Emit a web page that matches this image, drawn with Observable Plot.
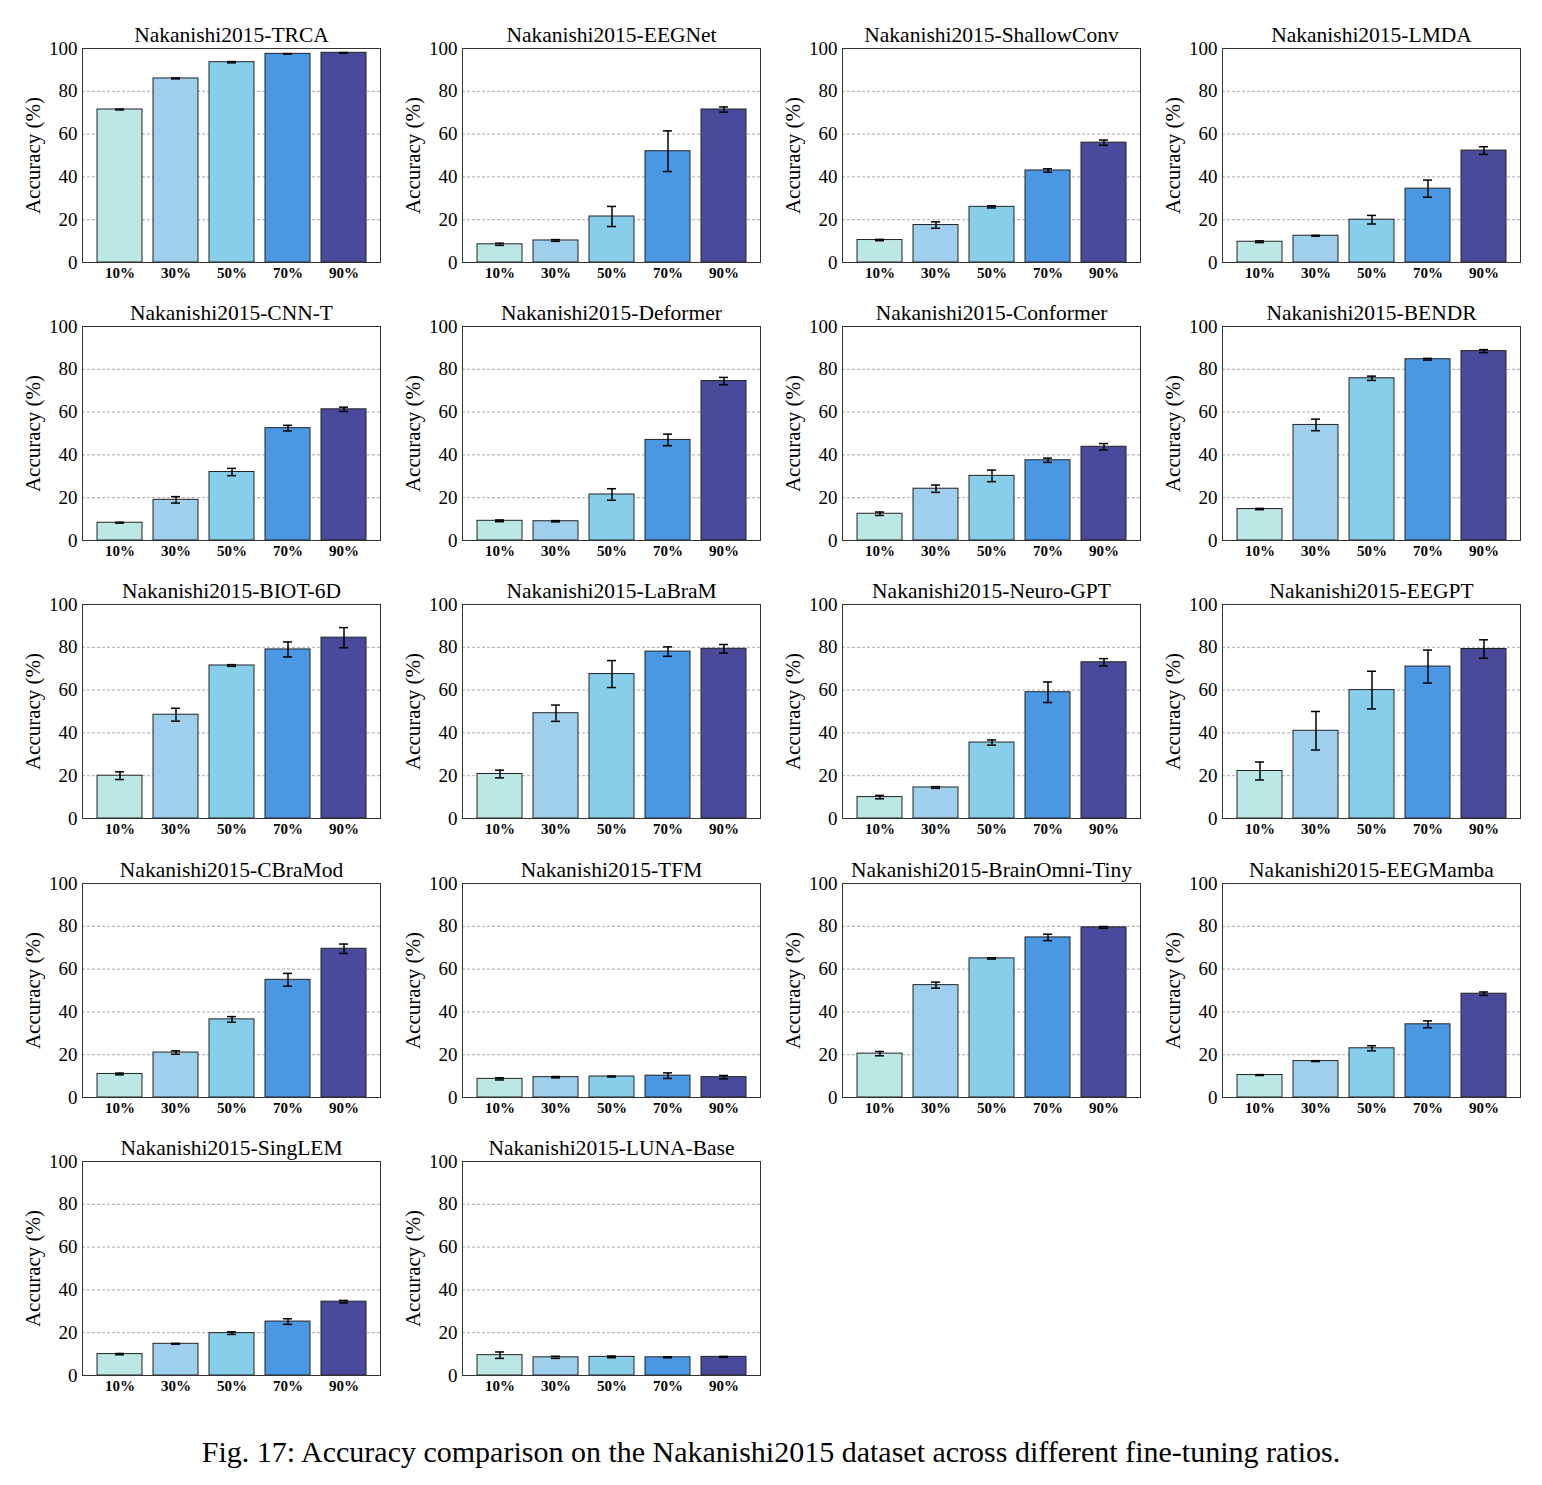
<!DOCTYPE html>
<html>
<head>
<meta charset="utf-8">
<script src="https://cdn.jsdelivr.net/npm/d3@7"></script>
<script src="https://cdn.jsdelivr.net/npm/@observablehq/plot@0.6"></script>
<style>
  html, body { margin: 0; padding: 0; background: #fff; }
  #grid { position: relative; width: 1542px; height: 1485px; font-family: "Liberation Serif", "Times New Roman", serif; }
  .panel { position: absolute; }
  .panel svg { overflow: visible; }
  #caption { position: absolute; left: 0; width: 1542px; top: 1434px; text-align: center;
             font-family: "Liberation Serif", "Times New Roman", serif; font-size: 30px; line-height: 36px; color: #000; }
</style>
</head>
<body>
<div id="grid"></div>

<script>
// Fine-tuning ratios (x categories)
const ratios = ["10%", "30%", "50%", "70%", "90%"];

// Models, one panel each (row-major, 4 per row)
const models = [
  "TRCA", "EEGNet", "ShallowConv", "LMDA",
  "CNN-T", "Deformer", "Conformer", "BENDR",
  "BIOT-6D", "LaBraM", "Neuro-GPT", "EEGPT",
  "CBraMod", "TFM", "BrainOmni-Tiny", "EEGMamba",
  "SingLEM", "LUNA-Base"
];

// Mean accuracy (%) per model, in ratio order
const meanAcc = [
  [71.5, 86.0, 93.6, 97.5, 98.0],
  [8.5, 10.3, 21.5, 52.0, 71.5],
  [10.5, 17.5, 26.0, 43.0, 56.0],
  [9.7, 12.5, 20.0, 34.5, 52.3],
  [8.3, 19.0, 32.0, 52.5, 61.3],
  [9.2, 9.0, 21.5, 47.0, 74.5],
  [12.5, 24.2, 30.2, 37.5, 43.8],
  [14.7, 54.0, 75.8, 84.7, 88.5],
  [20.0, 48.5, 71.5, 79.0, 84.5],
  [20.8, 49.2, 67.5, 78.0, 79.3],
  [10.0, 14.5, 35.5, 59.0, 73.0],
  [22.2, 41.0, 60.0, 71.0, 79.2],
  [11.0, 21.0, 36.5, 55.0, 69.5],
  [8.7, 9.5, 9.8, 10.2, 9.5],
  [20.5, 52.5, 65.0, 74.8, 79.5],
  [10.5, 17.0, 23.0, 34.2, 48.5],
  [10.0, 14.8, 19.8, 25.2, 34.5],
  [9.5, 8.5, 8.7, 8.5, 8.7]
];

// Standard deviation (%) per model, in ratio order
const stdAcc = [
  [0.2, 0.2, 0.3, 0.1, 0.1],
  [0.5, 0.4, 4.7, 9.5, 1.2],
  [0.3, 1.5, 0.5, 0.8, 1.2],
  [0.4, 0.2, 2.0, 4.0, 1.8],
  [0.2, 1.5, 1.7, 1.3, 1.0],
  [0.4, 0.3, 2.7, 2.7, 1.7],
  [0.8, 1.7, 2.7, 1.0, 1.5],
  [0.3, 2.7, 1.0, 0.4, 0.7],
  [1.8, 3.0, 0.4, 3.5, 4.7],
  [1.8, 3.8, 6.3, 2.2, 2.0],
  [0.8, 0.4, 1.2, 4.8, 1.7],
  [4.2, 9.0, 8.8, 7.7, 4.3],
  [0.4, 0.8, 1.3, 3.0, 2.2],
  [0.5, 0.3, 0.2, 1.3, 0.8],
  [1.0, 1.4, 0.3, 1.5, 0.4],
  [0.2, 0.2, 1.2, 1.6, 0.8],
  [0.3, 0.2, 0.6, 1.3, 0.6],
  [1.5, 0.5, 0.4, 0.2, 0.2]
];

const barColors = ["#bbe7e4", "#9ed0ee", "#87ceeb", "#4a98e3", "#4a4a9c"];
const datasetName = "Nakanishi2015";

const grid = document.getElementById("grid");
const colPitch = 380, rowPitch = 278.2;

models.forEach((model, i) => {
  const col = i % 4, row = Math.floor(i / 4);
  const rows = ratios.map((r, j) => ({
    ratio: r,
    mean: meanAcc[i][j],
    lo: meanAcc[i][j] - stdAcc[i][j],
    hi: meanAcc[i][j] + stdAcc[i][j]
  }));

  const chart = Plot.plot({
    width: 380,
    height: 48 + 214 + 30,
    marginLeft: 82,
    marginRight: 0,
    marginTop: 48,
    marginBottom: 30,
    style: { fontFamily: "'Liberation Serif', 'Times New Roman', serif", background: "transparent", color: "#000" },
    x: { domain: ratios, paddingInner: 0.2, paddingOuter: 0.24 },
    y: { domain: [0, 100] },
    color: { domain: ratios, range: barColors },
    marks: [
      Plot.gridY([20, 40, 60, 80], { stroke: "#777", strokeOpacity: 0.8, strokeDasharray: "3,2", strokeWidth: 0.8 }),
      Plot.barY(rows, { x: "ratio", y: "mean", fill: "ratio", stroke: "#222", strokeWidth: 1 }),
      Plot.ruleX(rows, { x: "ratio", y1: "lo", y2: "hi", stroke: "#000", strokeWidth: 1.5 }),
      Plot.tickY(rows, { x: "ratio", y: "lo", stroke: "#000", strokeWidth: 1.5, insetLeft: 18, insetRight: 18 }),
      Plot.tickY(rows, { x: "ratio", y: "hi", stroke: "#000", strokeWidth: 1.5, insetLeft: 18, insetRight: 18 }),
      Plot.frame({ stroke: "#333", strokeWidth: 1 }),
      Plot.axisY({ ticks: [0, 20, 40, 60, 80, 100], tickSize: 0, tickPadding: 5, fontSize: 19, label: null }),
      Plot.axisX({ tickSize: 0, tickPadding: 5, fontSize: 15, fontWeight: "bold", label: null }),
      Plot.text(["Accuracy (%)"], { frameAnchor: "left", rotate: -90, dx: -49, textAnchor: "middle", lineAnchor: "middle", fontSize: 21, fill: "#000" }),
      Plot.text([`${datasetName}-${model}`], { frameAnchor: "top", dy: -13, lineAnchor: "middle", textAnchor: "middle", fontSize: 21.5, fill: "#000" })
    ]
  });

  const holder = document.createElement("div");
  holder.className = "panel";
  holder.style.left = `${col * colPitch}px`;
  holder.style.top = `${Math.round(row * rowPitch)}px`;
  holder.appendChild(chart);
  grid.appendChild(holder);
});

const caption = document.createElement("div");
caption.id = "caption";
caption.textContent = "Fig. 17: Accuracy comparison on the Nakanishi2015 dataset across different fine-tuning ratios.";
grid.appendChild(caption);
</script>
</body>
</html>
